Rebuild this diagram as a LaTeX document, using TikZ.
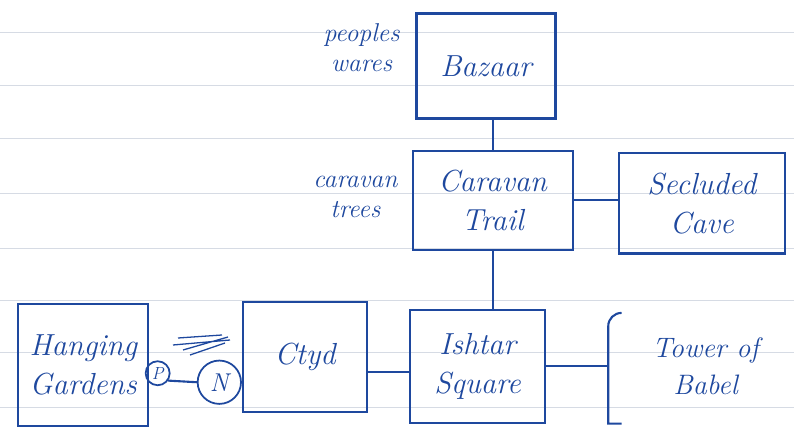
\documentclass[tikz,border=0pt]{standalone}
\usepackage{amsmath}
\usetikzlibrary{positioning}
\definecolor{ink}{RGB}{30,72,158}
\definecolor{paperrule}{RGB}{214,219,228}
\tikzset{
site/.style={text=ink,align=center,font=\itshape\fontsize{26}{33}\selectfont},
place/.style={site,draw=ink,line width=1.8pt,inner sep=2pt},
note/.style={text=ink,align=center,font=\itshape\fontsize{22}{26}\selectfont},
link/.style={draw=ink,line width=1.8pt},
stop/.style={draw=ink,circle,line width=1.5pt,text=ink,inner sep=0pt}
}
\begin{document}
\begin{tikzpicture}[x=0.03cm,y=-0.03cm]
\useasboundingbox (0,0) rectangle (794,430);
% ruled paper
\foreach \y in {32,85,138,193,248,300,352,407}
\draw[paperrule,line width=0.6pt] (0,\y) -- (794,\y);

\node[place,minimum width=4.17cm,minimum height=3.15cm] (bazaar) at (486,66) {Bazaar};
\node[note,left=0.35cm of bazaar,yshift=0.55cm] (wares) {peoples\\wares};
\node[place,minimum width=4.8cm,minimum height=2.97cm,below=0.9cm of bazaar,xshift=0.2cm] (caravan) {Caravan\\Trail};
\node[note,left=0.3cm of caravan,yshift=0.1cm] (trees) {caravan\\trees};
\node[place,minimum width=4.98cm,minimum height=3cm,right=1.32cm of caravan,yshift=-0.1cm] (cave) {Secluded\\Cave};
\node[place,minimum width=4.05cm,minimum height=3.39cm,below=1.74cm of caravan,xshift=-0.45cm] (ishtar) {Ishtar\\Square};
\node[place,minimum width=3.72cm,minimum height=3.3cm,left=1.23cm of ishtar,yshift=0.27cm] (ctyd) {Ctyd};
\node[place,minimum width=3.9cm,minimum height=3.66cm,left=2.78cm of ctyd,yshift=-0.24cm] (gardens) {Hanging\\Gardens};
\node[stop,minimum size=0.72cm,font=\itshape\fontsize{15}{15}\selectfont] (p) at ([shift={(0.25cm,-0.24cm)}]gardens.east) {P};
\node[stop,minimum size=1.3cm,font=\itshape\fontsize{22}{22}\selectfont] (n) at ([shift={(1.85cm,-0.27cm)}]p.center) {N};
\coordinate[right=1.86cm of ishtar.east] (tb);
\node[site,font=\itshape\fontsize{24}{32}\selectfont,right=1.2cm of tb] (tower) {Tower of\\Babel};

\draw[link] (bazaar.south -| caravan.north) -- (caravan.north);
\draw[link] (caravan.east) -- (caravan.east -| cave.west);
\draw[link] (caravan.south) -- (caravan.south |- ishtar.north);
\draw[link] ([yshift=-0.45cm]ctyd.east) -- ([yshift=-0.45cm]ctyd.east -| ishtar.west);
\draw[link] (ishtar.east) -- (tb);
\draw[link] (p.-35) -- (n.west);
% bracket round the tower
\draw[link] ([shift={(0.4cm,1.6cm)}]tb) to[out=180,in=90] ([yshift=1.2cm]tb) -- ([yshift=-1.72cm]tb) -- ([shift={(0.4cm,-1.72cm)}]tb);
% crossed out
\draw[link,line width=1.1pt] (173,345) -- (230,340) (183,350) -- (228,337) (178,338) -- (222,335) (190,355) -- (225,343);
\end{tikzpicture}
\end{document}
